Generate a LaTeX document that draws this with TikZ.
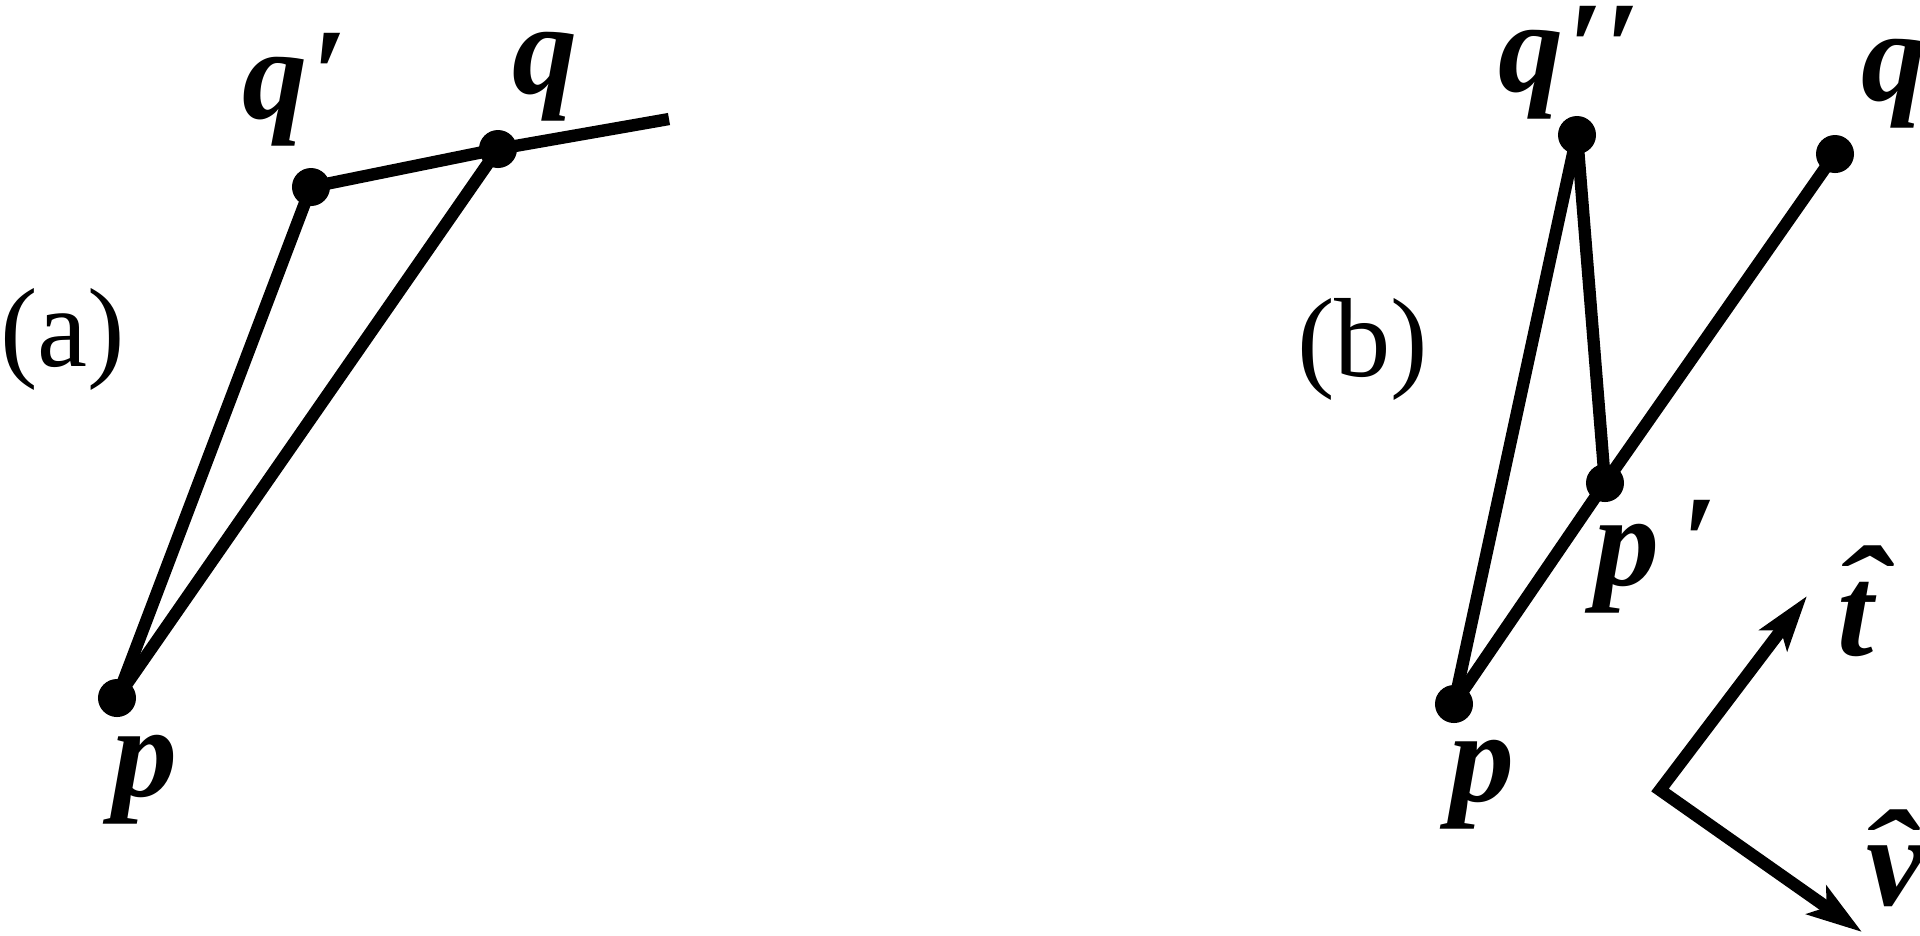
\documentclass[tikz,border=0pt]{standalone}
\usepackage{fontspec}
\setmainfont{Liberation Serif}
\usetikzlibrary{arrows.meta}

% letter with a circumflex set over it
\newcommand{\withhat}[3]{\rlap{\kern#1\raisebox{#2}{\scalebox{1.25}[1]{\char"02C6}}}#3}

\begin{document}
\begin{tikzpicture}[x=0.01cm, y=-0.01cm,
  line width=3.5pt,
  dot/.style = {circle, fill, inner sep=0pt, outer sep=0pt, minimum size=0.38cm},
  lbl/.style = {inner sep=0pt, anchor=base west,
    font=\fontsize{37}{40}\selectfont\bfseries\itshape},
  tag/.style = {inner sep=0pt, anchor=base west,
    font=\fontsize{32}{35}\selectfont}]
  \tikzstyle{tips}=[{Stealth[length=0.55cm, width=0.34cm, inset=0.12cm]}-{Stealth[length=0.55cm, width=0.34cm, inset=0.12cm]}]
  \useasboundingbox (0,0) rectangle (1920,935);

  % (a)
  \node[dot] (pa)  at (117,698) {};
  \node[dot] (qpa) at (311,187) {};
  \node[dot] (qa)  at (498,149) {};
  \coordinate (enda) at (669,119);
  \draw (qpa.center) -- (qa.center) -- (enda);
  \draw (pa.center) -- (qpa.center);
  \draw (pa.center) -- (qa.center);
  \node[tag] (taga) at (-6,366) {(a)};
  \node[lbl] (lqpa) at (236,118) {q\kern0.03em′};
  \node[lbl] (lqa)  at (506,93) {q};
  \node[lbl] (lpa)  at (106,796) {p};

  % (b)
  \node[dot] (pb)   at (1454,704) {};
  \node[dot] (ppb)  at (1605,483) {};
  \node[dot] (qppb) at (1577,135) {};
  \node[dot] (qb)   at (1835,154) {};
  \draw (pb.center) -- (qppb.center);
  \draw (qppb.center) -- (ppb.center);
  \draw (pb.center) -- (ppb.center);
  \draw (ppb.center) -- (qb.center);
  \node[tag] (tagb) at (1291,376) {(b)};
  \node[lbl] (lqppb) at (1492,91) {q\kern0.03em′′};
  \node[lbl] (lqb)   at (1855,100) {q};
  \node[lbl] (lppb)  at (1588,585) {p\kern0.16em′};
  \node[lbl] (lpb)   at (1443,801) {p};

  % frame vectors
  \coordinate (org)  at (1660,790);
  \coordinate (ttip) at (1807,596);
  \coordinate (vtip) at (1862,932);
  \draw[tips] (ttip) -- (org) -- (vtip);
  \node[lbl] (lt) at (1831,655) {\withhat{-1pt}{5pt}{t}};
  \node[lbl] (lv) at (1860,905) {\withhat{-2pt}{1pt}{v}};
\end{tikzpicture}
\end{document}
